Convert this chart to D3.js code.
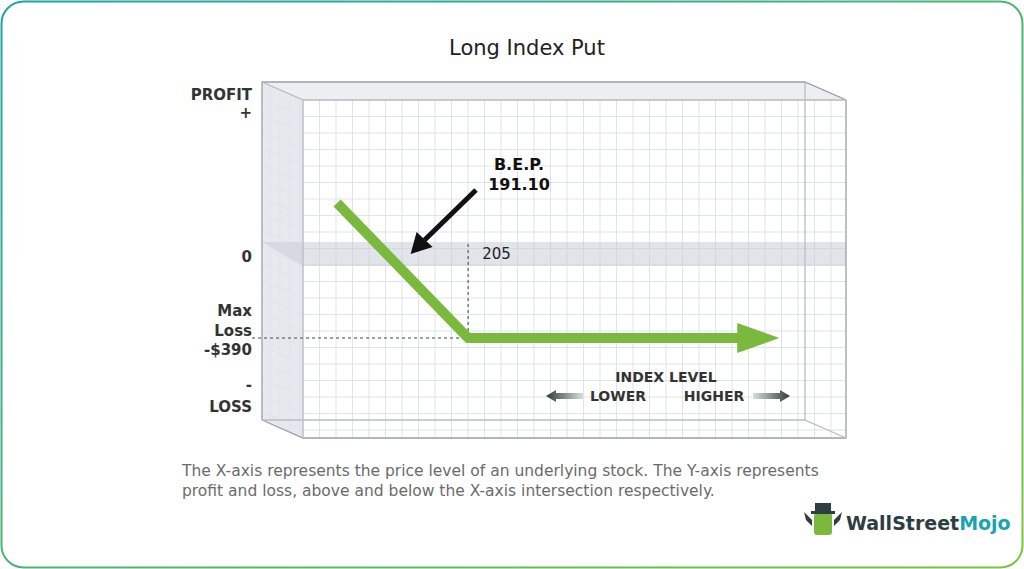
<!DOCTYPE html>
<html><head><meta charset="utf-8">
<script src="https://cdn.jsdelivr.net/npm/d3@7"></script>
<style>body{margin:0;background:#fff}svg{display:block}</style></head>
<body><script>
const indexLevels=[165,205,300];
const payoff=[237,-390,-390];
const breakEven=191.10, strike=205, maxLoss=-390;
const yLabels=["PROFIT","+","0","Max","Loss","-$390","-","LOSS"];
const caption=["The X-axis represents the price level of an underlying stock. The Y-axis represents","profit and loss, above and below the X-axis intersection respectively."];

const W=1024,H=569;
const svg=d3.select("body").append("svg").attr("width",W).attr("height",H);
const defs=svg.append("defs");
const g1=defs.append("linearGradient").attr("id","bd").attr("x1","0").attr("x2","1").attr("y1","0").attr("y2","1");
g1.append("stop").attr("offset","0").attr("stop-color","#1aa3a8");
g1.append("stop").attr("offset","1").attr("stop-color","#7cc243");
const ga=defs.append("linearGradient").attr("id","ar");
ga.append("stop").attr("offset","0").attr("stop-color","#2f3b3b");
ga.append("stop").attr("offset","1").attr("stop-color","#d8dcdc");
svg.append("rect").attr("x",1.5).attr("y",1.5).attr("width",W-3).attr("height",H-3).attr("rx",22).attr("fill","#fff").attr("stroke","url(#bd)").attr("stroke-width",2);

svg.append("text").attr("x",527).attr("y",55).attr("text-anchor","middle").attr("font-family","Verdana, DejaVu Sans").attr("font-size",21).attr("fill","#222").text("Long Index Put");

const x=d3.scaleLinear().domain([150,310]).range([288,812]);
const y=d3.scaleLinear().domain([0,-390]).range([254,338]);

const L=262,T=82,R=805,B=420,dx=41,dy=18;
svg.append("path").attr("d",`M${L},${T}L${L+dx},${T+dy}L${L+dx},${B+dy}L${L},${B}Z`).attr("fill","#e6e9ee");
svg.append("path").attr("d",`M${L},${T}L${R},${T}L${R+dx},${T+dy}L${L+dx},${T+dy}Z`).attr("fill","#eceef2");
const grid=svg.append("g").attr("stroke","#dfe3ea").attr("stroke-width",1);
for(let gx=L+dx;gx<=R+dx;gx+=16.5) grid.append("line").attr("x1",gx).attr("x2",gx).attr("y1",T+dy).attr("y2",B+dy);
for(let gy=T+dy;gy<=B+dy;gy+=16.5) grid.append("line").attr("x1",L+dx).attr("x2",R+dx).attr("y1",gy).attr("y2",gy);
for(let gx=L+8;gx<L+dx;gx+=10) grid.append("line").attr("x1",gx).attr("x2",gx).attr("y1",T+(gx-L)*dy/dx).attr("y2",B+(gx-L)*dy/dx);
for(let gy=T;gy<=B;gy+=16.5) grid.append("line").attr("x1",L).attr("x2",L+dx).attr("y1",gy).attr("y2",gy+dy);
svg.append("path").attr("d",`M${L},${y(0)-12}L${R+dx},${y(0)-12}L${R+dx},${y(0)+12}L${L+dx},${y(0)+12}Z`).attr("fill","#c9ced6").attr("opacity",0.55);
const ed=svg.append("g").attr("fill","none").attr("stroke","#9aa0a8").attr("stroke-width",1.3);
ed.append("path").attr("d",`M${L},${B}L${L},${T}L${R},${T}L${R+dx},${T+dy}L${R+dx},${B+dy}L${L+dx},${B+dy}L${L},${B}`);
ed.append("path").attr("d",`M${L},${T}L${L+dx},${T+dy}L${L+dx},${B+dy}M${L+dx},${T+dy}L${R+dx},${T+dy}M${R},${T}L${R},${B}L${R+dx},${B+dy}M${L},${B}L${R},${B}`).attr("stroke","#b8bdc4");

svg.append("line").attr("x1",x(strike)).attr("x2",x(strike)).attr("y1",y(0)-10).attr("y2",y(maxLoss)-4).attr("stroke","#444").attr("stroke-dasharray","3,3");
svg.append("line").attr("x1",252).attr("x2",x(strike)-2).attr("y1",y(maxLoss)).attr("y2",y(maxLoss)).attr("stroke","#444").attr("stroke-dasharray","3,3");
svg.append("text").attr("x",x(strike)+14).attr("y",y(0)+5).attr("font-family","Verdana, DejaVu Sans").attr("font-size",15).attr("fill","#222").text(strike);

const pts=indexLevels.map((v,i)=>[x(v),y(payoff[i])]);
const tip=pts[2];
svg.append("path").attr("d",d3.line()([pts[0],pts[1],[tip[0]-38,tip[1]]])).attr("fill","none").attr("stroke","#7ab93d").attr("stroke-width",10).attr("stroke-linejoin","miter");
svg.append("path").attr("d",`M${tip[0]},${tip[1]}L${tip[0]-42},${tip[1]-15}L${tip[0]-42},${tip[1]+15}Z`).attr("fill","#7ab93d");

const bx=x(breakEven)-12, by=y(0);
svg.append("line").attr("x1",476).attr("x2",bx+14).attr("y1",190).attr("y2",by-14).attr("stroke","#111").attr("stroke-width",5);
svg.append("path").attr("d",`M${bx},${by}L${bx+6},${by-22}L${bx+22},${by-7}Z`).attr("fill","#111");
const bt=svg.append("text").attr("font-family","Verdana, DejaVu Sans").attr("font-weight","bold").attr("font-size",16).attr("fill","#111").attr("text-anchor","middle");
bt.append("tspan").attr("x",519).attr("y",170).text("B.E.P.");
bt.append("tspan").attr("x",519).attr("y",190).text(breakEven.toFixed(2));

const yl=[[yLabels[0],100],[yLabels[1],118],[yLabels[2],262],[yLabels[3],316],[yLabels[4],336],[yLabels[5],355],[yLabels[6],390],[yLabels[7],412]];
svg.append("g").selectAll("text").data(yl).join("text").attr("x",252).attr("y",d=>d[1]).attr("text-anchor","end")
 .attr("font-family","Verdana, DejaVu Sans").attr("font-weight","bold").attr("font-size",15).attr("fill","#333").text(d=>d[0]);

const lt=svg.append("g").attr("font-family","Verdana, DejaVu Sans").attr("font-weight","bold").attr("font-size",14).attr("fill","#333");
lt.append("text").attr("x",666).attr("y",382).attr("text-anchor","middle").text("INDEX LEVEL");
lt.append("text").attr("x",618).attr("y",401).attr("text-anchor","middle").text("LOWER");
lt.append("text").attr("x",714).attr("y",401).attr("text-anchor","middle").text("HIGHER");
svg.append("path").attr("d","M546,396L556,390L556,393L583,393L583,399L556,399L556,402Z").attr("fill","url(#ar)");
svg.append("g").attr("transform","translate(1336,0) scale(-1,1)").append("path").attr("d","M546,396L556,390L556,393L583,393L583,399L556,399L556,402Z").attr("fill","url(#ar)");

const ct=svg.append("text").attr("font-family","Verdana, DejaVu Sans").attr("font-size",15.5).attr("fill","#6b6b6b");
caption.forEach((c,i)=>ct.append("tspan").attr("x",182).attr("y",476+i*20).text(c));

const lg=svg.append("g");
lg.append("rect").attr("x",814).attr("y",513).attr("width",18).attr("height",22).attr("rx",3).attr("fill","#7ab93d");
lg.append("rect").attr("x",815).attr("y",503).attr("width",16).attr("height",10).attr("fill","#2d3e42");
lg.append("rect").attr("x",811).attr("y",511).attr("width",24).attr("height",3).attr("fill","#2d3e42");
lg.append("path").attr("d","M804,512L812,520L812,526L806,520Z M842,512L834,520L834,526L840,520Z").attr("fill","#2d3e42");
lg.append("text").attr("x",846).attr("y",530).attr("font-family","Verdana, DejaVu Sans").attr("font-weight","bold").attr("font-size",19)
 .call(t=>{t.append("tspan").attr("fill","#2d3e42").text("WallStreet");t.append("tspan").attr("fill","#1aa3b0").text("Mojo");});
</script></body></html>
